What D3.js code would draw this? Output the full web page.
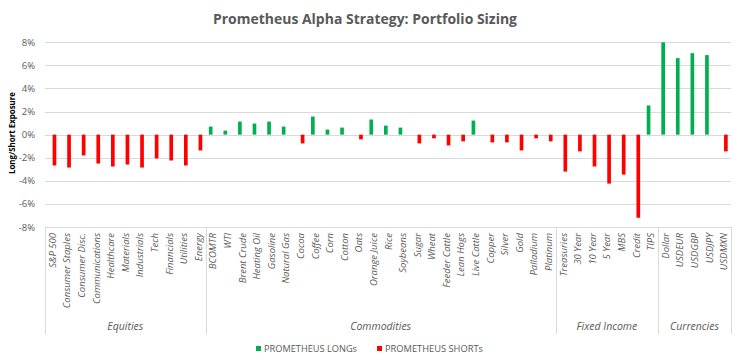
<!DOCTYPE html>
<html><head><meta charset="utf-8">
<script src="https://cdn.jsdelivr.net/npm/d3@7"></script>
<style>
body{margin:0;background:#fff;}
text{font-family:"Open Sans","Liberation Sans",sans-serif;fill:#595959;}
</style></head>
<body><svg id="c" width="744" height="364"></svg>
<script>
const categories = ["S&P 500","Consumer Staples","Consumer Disc.","Communications","Healthcare","Materials","Industrials","Tech","Financials","Utilities","Energy",
"BCOMTR","WTI","Brent Crude","Heating Oil","Gasoline","Natural Gas","Cocoa","Coffee","Corn","Cotton","Oats","Orange Juice","Rice","Soybeans","Sugar","Wheat","Feeder Cattle","Lean Hogs","Live Cattle","Copper","Silver","Gold","Palladium","Platinum",
"Treasuries","30 Year","10 Year","5 Year","MBS","Credit","TIPS",
"Dollar","USDEUR","USDGBP","USDJPY","USDMXN"];
const groupNames = ["Equities","Commodities","Fixed Income","Currencies"];
const groupSizes = [11,24,7,5];
const longs = [0,0,0,0,0,0,0,0,0,0,0,
0.70,0.35,1.13,0.96,1.13,0.70,0,1.57,0.44,0.61,0,1.31,0.78,0.61,0,0,0,0,1.22,0,0,0,0,0,
0,0,0,0,0,0,2.53,
8.0,6.63,7.06,6.89,0];
const shorts = [-2.67,-2.85,-1.80,-2.50,-2.76,-2.59,-2.85,-2.06,-2.24,-2.67,-1.37,
0,0,0,0,0,0,-0.76,0,0,0,-0.41,0,0,0,-0.76,-0.32,-0.93,-0.58,0,-0.67,-0.67,-1.37,-0.32,-0.58,
-3.20,-1.45,-2.76,-4.24,-3.46,-7.20,0,
0,0,0,0,-1.45];
const yTicks = [-8,-6,-4,-2,0,2,4,6,8];
const seriesNames = ["PROMETHEUS LONGs","PROMETHEUS SHORTs"];
const colors = ["#00B050","#FF0000"];

const svg = d3.select("#c");
const L=45, R=731, T=42.3, B=227;
const y = d3.scaleLinear().domain([-8,8]).range([B,T]);
const x0 = d3.scaleBand().domain(categories).range([L,R]);
const bw = x0.bandwidth();
const x1 = d3.scaleBand().domain(["long","short"]).range([bw/2-4, bw/2+4]).paddingInner(0.15);

// title
svg.append("text").attr("x",365).attr("y",24).attr("text-anchor","middle")
  .style("font-size","15px").style("font-weight","bold")
  .attr("textLength",304).attr("lengthAdjust","spacingAndGlyphs")
  .text("Prometheus Alpha Strategy: Portfolio Sizing");

// gridlines
svg.append("g").selectAll("line").data(yTicks).join("line")
  .attr("x1",L).attr("x2",R).attr("y1",d=>Math.round(y(d))+0.5).attr("y2",d=>Math.round(y(d))+0.5)
  .attr("stroke","#D9D9D9").attr("stroke-width",1);

// y axis labels
const yAxis = d3.axisLeft(y).tickValues(yTicks).tickFormat(d=>d+"%").tickSize(0).tickPadding(10);
const ga = svg.append("g").attr("transform",`translate(${L},0)`).call(yAxis);
ga.select(".domain").remove();
ga.selectAll("text").style("font-size","9.5px").style("fill","#595959").style("font-family","Open Sans, sans-serif");

// y label
svg.append("text").attr("transform","translate(15,133) rotate(-90)").attr("text-anchor","middle")
  .style("font-size","9.5px").style("font-weight","bold").style("fill","#000")
  .attr("textLength",82).attr("lengthAdjust","spacingAndGlyphs")
  .text("Long/Short Exposure");

// bars
const gb = svg.append("g");
gb.selectAll("rect.l").data(categories.map((c,i)=>({c,v:longs[i]})).filter(d=>d.v!==0)).join("rect")
  .attr("x",d=>x0(d.c)+x1("long")).attr("width",x1.bandwidth())
  .attr("y",d=>y(Math.max(0,d.v))).attr("height",d=>Math.abs(y(d.v)-y(0)))
  .attr("fill",colors[0]);
gb.selectAll("rect.s").data(categories.map((c,i)=>({c,v:shorts[i]})).filter(d=>d.v!==0)).join("rect")
  .attr("x",d=>x0(d.c)+x1("short")).attr("width",x1.bandwidth())
  .attr("y",d=>y(Math.max(0,d.v))).attr("height",d=>Math.abs(y(d.v)-y(0)))
  .attr("fill",colors[1]);

// category labels
svg.append("g").selectAll("text").data(categories).join("text")
  .attr("transform",d=>`translate(${x0(d)+bw/2+3.5},233) rotate(-90)`)
  .attr("text-anchor","end").style("font-size","9.5px").style("font-style","italic")
  .text(d=>d);

// group separators and labels
let idx=0; const bounds=[0];
groupSizes.forEach(s=>{idx+=s;bounds.push(idx);});
const bx = i => i>=categories.length ? R : x0(categories[i]);
svg.append("g").selectAll("line").data(bounds).join("line")
  .attr("x1",d=>Math.round(bx(d))+0.5).attr("x2",d=>Math.round(bx(d))+0.5)
  .attr("y1",B).attr("y2",334).attr("stroke","#D9D9D9");
svg.append("g").selectAll("text").data(groupNames).join("text")
  .attr("x",(d,i)=>(bx(bounds[i])+bx(bounds[i+1]))/2).attr("y",330)
  .attr("text-anchor","middle").style("font-size","10.5px").style("font-style","italic")
  .text(d=>d);

// legend
const leg = [{x:256,tx:264,w:93},{x:377,tx:385,w:98}];
seriesNames.forEach((n,i)=>{
  svg.append("rect").attr("x",leg[i].x).attr("y",346).attr("width",5).attr("height",5).attr("fill",colors[i]);
  svg.append("text").attr("x",leg[i].tx).attr("y",352).style("font-size","9.5px")
    .attr("textLength",leg[i].w).attr("lengthAdjust","spacingAndGlyphs").text(n);
});
</script></body></html>
